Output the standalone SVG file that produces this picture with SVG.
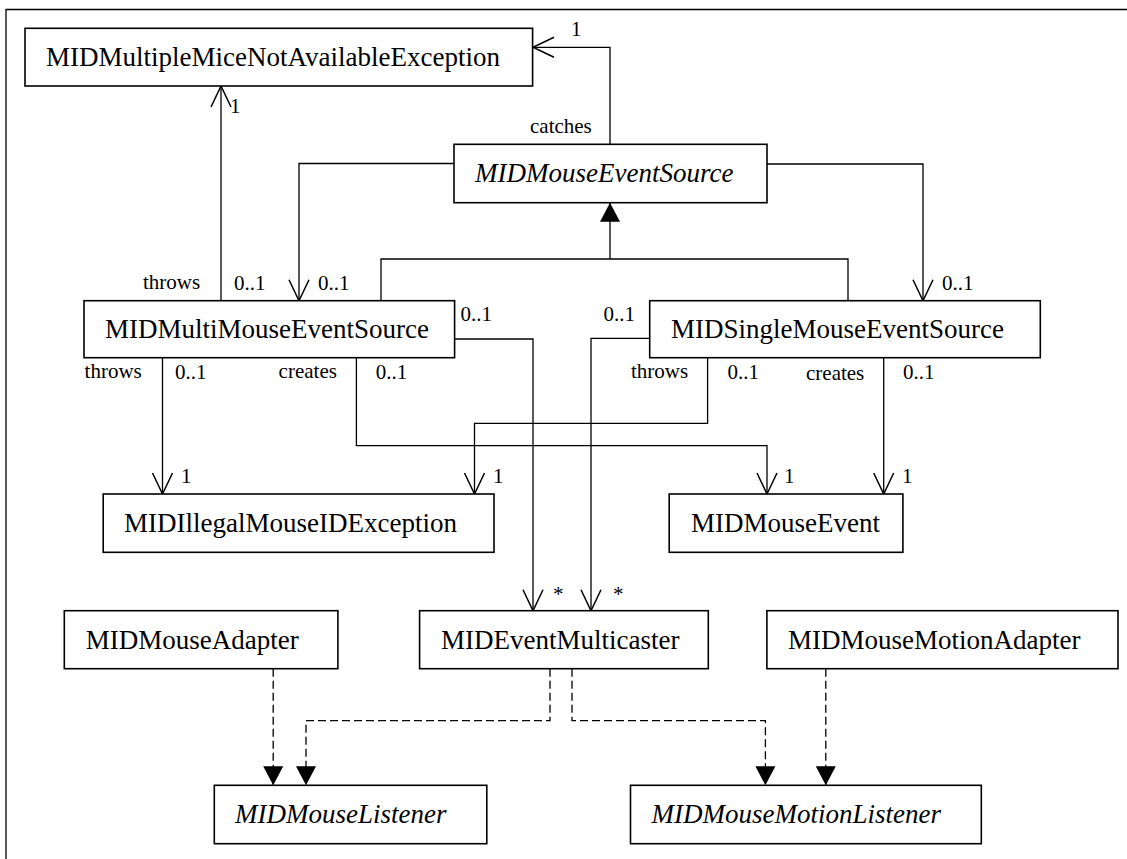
<svg xmlns="http://www.w3.org/2000/svg" width="1127" height="859" viewBox="0 0 1127 859">
<style>
.box{fill:#fff;stroke:#000;stroke-width:1.6}
.name{font-family:"Liberation Serif","Times New Roman",serif;font-size:27px;fill:#000}
.it{font-style:italic}
.lbl{font-family:"Liberation Serif","Times New Roman",serif;font-size:21px;fill:#000}
.conn{fill:none;stroke:#000;stroke-width:1.3}
.dash{stroke-dasharray:8 4}
.frame{fill:none;stroke:#000;stroke-width:1.3}
</style>
<defs>
<marker id="open" markerUnits="userSpaceOnUse" markerWidth="22" markerHeight="22" refX="21" refY="10" orient="auto" overflow="visible">
<path d="M0,0 L21,10 L0,20" fill="none" stroke="#000" stroke-width="1.5"/>
</marker>
<marker id="filled" markerUnits="userSpaceOnUse" markerWidth="20" markerHeight="20" refX="19" refY="10" orient="auto" overflow="visible">
<path d="M0,0 L19,10 L0,20 Z" fill="#000"/>
</marker>
</defs>
<rect width="1127" height="859" fill="#fff"/>
<path class="frame" d="M6,859 V9.5 H1127"/>

<g id="connectors">
<path class="conn" d="M610,144.3 V47.3 H533" marker-end="url(#open)"/>
<path class="conn" d="M221,300.7 V86" marker-end="url(#open)"/>
<path class="conn" d="M454,163.5 H299 V300.7" marker-end="url(#open)"/>
<path class="conn" d="M767,164 H923 V300.7" marker-end="url(#open)"/>
<path class="conn" d="M381,300.7 V259 H848 V300.7"/>
<path class="conn" d="M610,259 V202.7" marker-end="url(#filled)"/>
<path class="conn" d="M454.6,339 H533 V610.7" marker-end="url(#open)"/>
<path class="conn" d="M649.7,338.3 H591 V610.7" marker-end="url(#open)"/>
<path class="conn" d="M162.5,357.7 V494" marker-end="url(#open)"/>
<path class="conn" d="M356.4,357.7 V445.7 H767 V494" marker-end="url(#open)"/>
<path class="conn" d="M707.6,357.7 V423.3 H474.5 V494" marker-end="url(#open)"/>
<path class="conn" d="M883.7,357.7 V494" marker-end="url(#open)"/>
<path class="conn dash" d="M273.2,668.7 V785.3" marker-end="url(#filled)"/>
<path class="conn dash" d="M550,668.7 V720.7 H306 V785.3" marker-end="url(#filled)"/>
<path class="conn dash" d="M572,668.7 V720.7 H765.4 V785.3" marker-end="url(#filled)"/>
<path class="conn dash" d="M825.8,668.7 V785.3" marker-end="url(#filled)"/>

<text class="lbl" x="530" y="133">catches</text>
<text class="lbl" x="571" y="36">1</text>
<text class="lbl" x="230" y="113">1</text>
<text class="lbl" x="143" y="288.5">throws</text>
<text class="lbl" x="234" y="290">0..1</text>
<text class="lbl" x="318" y="290">0..1</text>
<text class="lbl" x="942" y="290">0..1</text>
<text class="lbl" x="460.5" y="321">0..1</text>
<text class="lbl" x="603.5" y="321">0..1</text>
<text class="lbl" x="84.6" y="378">throws</text>
<text class="lbl" x="175" y="379">0..1</text>
<text class="lbl" x="278.6" y="378">creates</text>
<text class="lbl" x="375.7" y="379">0..1</text>
<text class="lbl" x="631" y="378">throws</text>
<text class="lbl" x="727.4" y="379">0..1</text>
<text class="lbl" x="806" y="380">creates</text>
<text class="lbl" x="903" y="379">0..1</text>
<text class="lbl" x="181" y="483.3">1</text>
<text class="lbl" x="493" y="483.3">1</text>
<text class="lbl" x="784" y="483.3">1</text>
<text class="lbl" x="902" y="483.3">1</text>
<text class="lbl" x="553" y="601">*</text>
<text class="lbl" x="613" y="601">*</text>
</g>

<g id="MIDMultipleMiceNotAvailableException">
<rect class="box" x="25" y="28.3" width="507.6" height="57.7"/>
<text class="name" x="46" y="65.5">MIDMultipleMiceNotAvailableException</text>
</g>
<g id="MIDMouseEventSource">
<rect class="box" x="454" y="144.3" width="313" height="58.4"/>
<text class="name it" x="475" y="181.5">MIDMouseEventSource</text>
</g>
<g id="MIDMultiMouseEventSource">
<rect class="box" x="84" y="300.7" width="370.6" height="57"/>
<text class="name" x="105" y="338">MIDMultiMouseEventSource</text>
</g>
<g id="MIDSingleMouseEventSource">
<rect class="box" x="649.7" y="300.7" width="390.6" height="57"/>
<text class="name" x="671" y="338">MIDSingleMouseEventSource</text>
</g>
<g id="MIDIllegalMouseIDException">
<rect class="box" x="103.2" y="494" width="390.8" height="58.3"/>
<text class="name" x="124" y="532">MIDIllegalMouseIDException</text>
</g>
<g id="MIDMouseEvent">
<rect class="box" x="669.2" y="494" width="233.7" height="58.3"/>
<text class="name" x="691" y="532">MIDMouseEvent</text>
</g>
<g id="MIDMouseAdapter">
<rect class="box" x="64.3" y="610.7" width="273.6" height="58"/>
<text class="name" x="85.7" y="648.5">MIDMouseAdapter</text>
</g>
<g id="MIDEventMulticaster">
<rect class="box" x="419.6" y="610.7" width="288.7" height="58"/>
<text class="name" x="441" y="648.5">MIDEventMulticaster</text>
</g>
<g id="MIDMouseMotionAdapter">
<rect class="box" x="766.9" y="610.7" width="351.1" height="58"/>
<text class="name" x="788" y="648.5">MIDMouseMotionAdapter</text>
</g>
<g id="MIDMouseListener">
<rect class="box" x="214.3" y="785.3" width="272.5" height="58.4"/>
<text class="name it" x="235" y="823">MIDMouseListener</text>
</g>
<g id="MIDMouseMotionListener">
<rect class="box" x="630.5" y="785.3" width="350.8" height="58.4"/>
<text class="name it" x="651.5" y="823">MIDMouseMotionListener</text>
</g>
</svg>
